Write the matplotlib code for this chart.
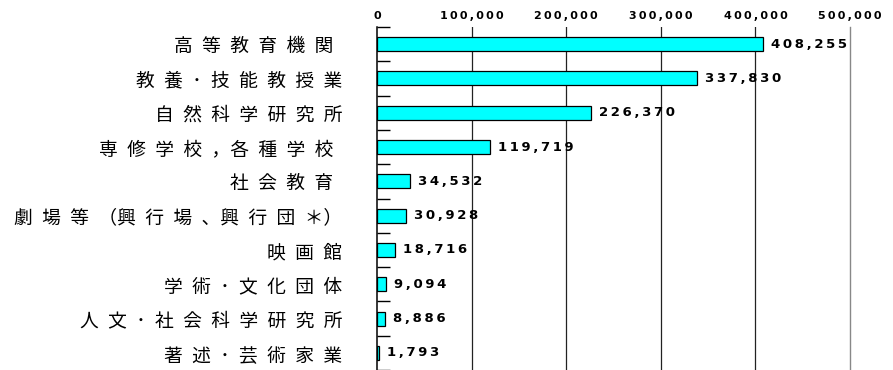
import matplotlib
matplotlib.use("Agg")
import matplotlib.pyplot as plt
import numpy as np

# Employees by establishment type
categories = [
    "高等教育機関 ",
    "教養･技能教授業",
    "自然科学研究所",
    "専修学校，各種学校 ",
    "社会教育 ",
    "劇場等（興行場、興行団＊）",
    "映画館",
    "学術･文化団体",
    "人文･社会科学研究所",
    "著述･芸術家業",
]
values = [408255, 337830, 226370, 119719, 34532, 30928, 18716, 9094, 8886, 1793]
x_ticks = [0, 100000, 200000, 300000, 400000, 500000]

CJK = ["Noto Sans CJK JP", "DejaVu Sans"]
GAP = "\u2002"              # wide letter spacing for the category names
NUM_GAP = "\u2009"          # letter spacing for bar values
TICK_GAP = "\u2009"         # letter spacing for axis numbers
NO_GAP_AFTER = "（、，"
NO_GAP_BEFORE = "）"


def spaced_label(text):
    core = text.rstrip()
    out = core[0]
    for prev, ch in zip(core, core[1:]):
        if prev not in NO_GAP_AFTER and ch not in NO_GAP_BEFORE:
            out += GAP
        out += ch
    if text != core:
        out += GAP
    return out


def spaced_number(v, gap):
    return gap.join(f"{v:,}")


fig = plt.figure(figsize=(8.93, 3.70), dpi=100)
ax = fig.add_axes([377 / 893, 0.0, (850 - 377) / 893, 343 / 370])

n = len(categories)
ypos = np.arange(n)
ax.barh(ypos, values, height=0.41, color="#00FFFF", edgecolor="black",
        linewidth=0.9, zorder=3)

ax.set_xlim(x_ticks[0], x_ticks[-1])
ax.set_ylim(n - 0.5, -0.5)

# vertical grid lines at the inner ticks
for t in x_ticks[1:-1]:
    ax.axvline(t, color="#222222", linewidth=0.9, zorder=1)

# top axis numbers
ax.xaxis.tick_top()
ax.set_xticks(x_ticks)
ax.set_xticklabels([spaced_number(t, TICK_GAP) for t in x_ticks],
                   fontsize=8, fontweight="bold", fontfamily="DejaVu Sans")
ax.tick_params(axis="x", length=0, pad=4, colors="black")

# category names at bar centres, short ticks at slot boundaries
ax.set_yticks(ypos)
ax.set_yticklabels([spaced_label(c) for c in categories], fontsize=13.5,
                   fontfamily=CJK)
ax.tick_params(axis="y", which="major", length=0, pad=25)
ax.set_yticks(np.arange(n + 1) - 0.5, minor=True)
ax.tick_params(axis="y", which="minor", direction="in", length=9, width=1,
               color="black")

for side in ("top", "bottom"):
    ax.spines[side].set_visible(False)
ax.spines["left"].set_color("black")
ax.spines["left"].set_linewidth(1.1)
ax.spines["right"].set_color("#888888")
ax.spines["right"].set_linewidth(1.0)

# value labels next to each bar
for i, v in enumerate(values):
    ax.annotate(spaced_number(v, NUM_GAP), xy=(v, i), xytext=(8, 0),
                textcoords="offset pixels", ha="left", va="center",
                fontsize=9.5, fontweight="bold", fontfamily="DejaVu Sans",
                color="black", zorder=4)

fig.savefig("out.png", dpi=100)
